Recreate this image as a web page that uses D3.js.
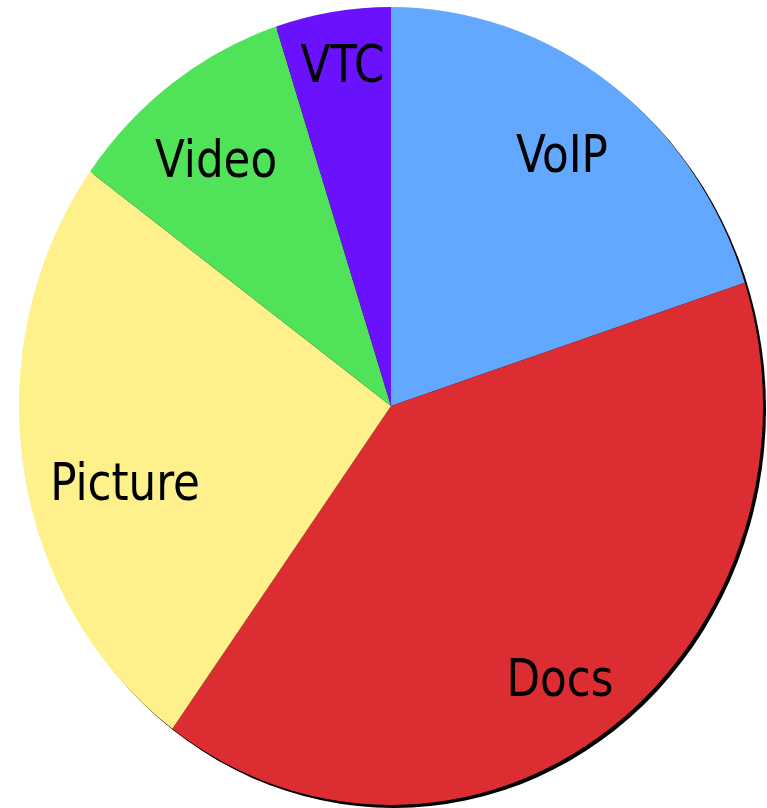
<!DOCTYPE html>
<html>
<head>
<meta charset="utf-8">
<script src="https://cdn.jsdelivr.net/npm/d3@7"></script>
<style>
  html, body { margin: 0; padding: 0; background: #fff; }
  svg { display: block; }
  .label {
    font-family: "DejaVu Sans Condensed", "DejaVu Sans", sans-serif;
    font-stretch: condensed;
    fill: #000;
  }
</style>
</head>
<body>
<div id="root"></div>
<script>
const width = 767;
const height = 808;

// slice data, clockwise from 12 o'clock
const categories = ['VoIP', 'Docs', 'Picture', 'Video', 'VTC'];
const values = [20, 40, 25, 10, 5];
const colors = ['#62a8fe', '#dc2d33', '#fef18b', '#50e35a', '#6a12fe'];

// pie is drawn as a circle then stretched vertically into an ellipse
const rx = 372;
const ry = 399;
const cx = 391;
const cy = 406;

// small hand nudges for labels that do not sit on the mid angle
const labelNudge = {
    VoIP: [-4, 5],
    Picture: [28, 24],
    VTC: [-2, -26],
    Docs: [-6, 12],
    Video: [0, 10]
};

const data = categories.map((c, i) => ({name: c, value: values[i], color: colors[i]}));

const pie = d3.pie()
    .value(d => d.value)
    .sort(null);

const arc = d3.arc()
    .innerRadius(0)
    .outerRadius(rx);

const labelArc = d3.arc()
    .innerRadius(rx * 0.8)
    .outerRadius(rx * 0.8);

const svg = d3.select('#root')
    .append('svg')
    .attr('width', width)
    .attr('height', height);

// shadow
svg.append('g')
    .attr('transform', `translate(${cx + 3},${cy + 3}) scale(1,${ry / rx})`)
    .append('circle')
    .attr('r', rx)
    .attr('fill', '#000');

const g = svg.append('g')
    .attr('transform', `translate(${cx},${cy}) scale(1,${ry / rx})`);

const arcs = pie(data);

g.selectAll('path')
    .data(arcs)
    .join('path')
    .attr('d', arc)
    .attr('fill', d => d.data.color);

g.selectAll('text')
    .data(arcs)
    .join('text')
    .attr('class', 'label')
    .attr('text-anchor', 'middle')
    .attr('font-size', 48.5)
    .attr('dy', '0.36em')
    .attr('transform', d => {
        const [x, y] = labelArc.centroid(d);
        const n = labelNudge[d.data.name] || [0, 0];
        return `translate(${x + n[0]},${y + n[1]})`;
    })
    .text(d => d.data.name);
</script>
</body>
</html>
